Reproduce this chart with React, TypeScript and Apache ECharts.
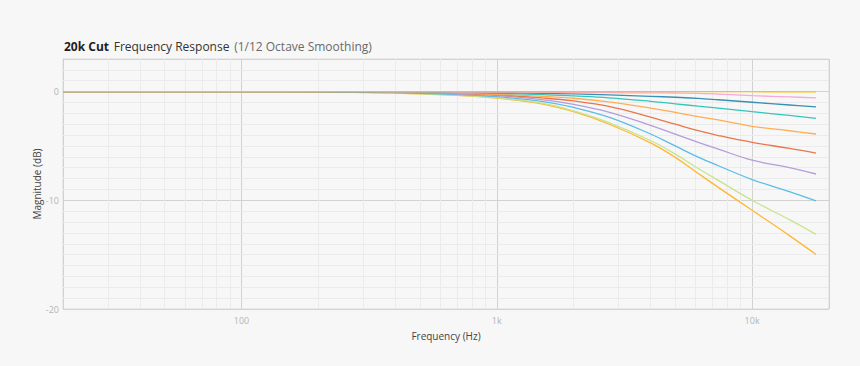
import React, { useEffect, useRef } from "react";
import * as echarts from "echarts";

const FREQS = [20, 100, 200, 300, 500, 700, 1000, 1500, 2000, 2745, 4000, 5000, 6150, 7370, 10000, 14000, 17800];

const GOLD = [0, 0, 0, 0, 0, 0, 0, 0, 0, 0, 0, 0, -0.01, -0.01, -0.01, -0.02, -0.02];
const PINK = [0, 0, 0, -0.01, -0.02, -0.04, -0.05, -0.06, -0.08, -0.1, -0.12, -0.13, -0.16, -0.23, -0.37, -0.49, -0.58];
const BLUE = [0, 0, -0.01, -0.02, -0.03, -0.05, -0.09, -0.15, -0.21, -0.3, -0.43, -0.52, -0.62, -0.75, -0.98, -1.23, -1.41];
const TEAL = [0, 0, -0.01, -0.02, -0.05, -0.08, -0.15, -0.27, -0.4, -0.57, -0.89, -1.12, -1.34, -1.52, -1.85, -2.19, -2.46];
const ORANGE = [0, 0, -0.01, -0.03, -0.07, -0.13, -0.24, -0.43, -0.61, -0.95, -1.52, -1.92, -2.3, -2.61, -3.19, -3.6, -3.9];
const RED = [0, 0, -0.02, -0.04, -0.1, -0.17, -0.3, -0.58, -0.86, -1.36, -2.35, -3.0, -3.6, -4.04, -4.67, -5.22, -5.66];
const PURPLE = [0, 0, -0.02, -0.05, -0.12, -0.21, -0.37, -0.74, -1.17, -1.88, -3.1, -3.92, -4.67, -5.29, -6.31, -7.0, -7.58];
const LIGHT_BLUE = [0, 0, -0.02, -0.06, -0.15, -0.27, -0.46, -0.9, -1.46, -2.35, -3.9, -5.0, -6.03, -6.82, -8.09, -9.2, -10.06];
const GREEN = [0, -0.01, -0.03, -0.07, -0.19, -0.33, -0.57, -1.06, -1.78, -2.85, -4.5, -5.75, -7.07, -8.17, -10.0, -11.78, -13.14];
const AMBER = [0, -0.01, -0.03, -0.08, -0.2, -0.35, -0.6, -1.12, -1.85, -2.98, -4.72, -6.05, -7.53, -8.81, -10.92, -13.25, -14.99];

const SERIES = [
  { name: "amber", values: AMBER, color: "#ffb732" },
  { name: "green", values: GREEN, color: "#c8e48e" },
  { name: "lightBlue", values: LIGHT_BLUE, color: "#5bbde6" },
  { name: "purple", values: PURPLE, color: "#b59ddb" },
  { name: "red", values: RED, color: "#e9774c" },
  { name: "orange", values: ORANGE, color: "#ffae55" },
  { name: "teal", values: TEAL, color: "#35c6bb" },
  { name: "blue", values: BLUE, color: "#3b8fb5" },
  { name: "pink", values: PINK, color: "#f6a8d8" },
  { name: "gold", values: GOLD, color: "#f7c11c" },
];

const MINOR_X = [30, 40, 50, 60, 70, 80, 90, 200, 300, 400, 500, 600, 700, 800, 900, 2000, 3000, 4000, 5000, 6000, 7000, 8000, 9000];
const MINOR_Y = [2, 1, -1, -2, -3, -4, -5, -6, -7, -8, -9, -11, -12, -13, -14, -15, -16, -17, -18, -19];
const X_LABELS: Record<number, string> = { 100: "100", 1000: "1k", 10000: "10k" };
const Y_LABELS = [0, -10, -20];

const FONT = "'Open Sans', sans-serif";

export default function App() {
  const ref = useRef<HTMLDivElement>(null);
  useEffect(() => {
    if (!ref.current) return;
    const chart = echarts.init(ref.current, null, { renderer: "svg" });
    const minorSeries = {
      name: "minor",
      type: "line",
      z: 1,
      data: [[20, 0]],
      showSymbol: false,
      lineStyle: { opacity: 0 },
      silent: true,
      markLine: {
        silent: true,
        z: 1,
        symbol: ["none", "none"],
        label: { show: false },
        animation: false,
        lineStyle: { color: "#ebebeb", type: "solid", width: 1 },
        emphasis: { disabled: true },
        data: [
          ...MINOR_X.map((v) => ({ xAxis: v })),
          ...MINOR_Y.map((v) => ({ yAxis: v })),
        ],
      },
    };
    chart.setOption({
      animation: false,
      backgroundColor: "#f7f7f7",
      textStyle: { fontFamily: FONT },
      title: {
        left: 59,
        top: 32,
        text: "{b|20k Cut} {n|Frequency Response} {g|(1/12 Octave Smoothing)}",
        textStyle: {
          fontWeight: "normal",
          rich: {
            b: { fontFamily: FONT, fontSize: 12, fontWeight: "bold", color: "#1e1e1e" },
            n: { fontFamily: FONT, fontSize: 12, fontWeight: "normal", color: "#333333" },
            g: { fontFamily: FONT, fontSize: 12, fontWeight: "normal", color: "#6a6a6a" },
          },
        },
      },
      grid: {
        left: 63,
        right: 31,
        top: 59,
        bottom: 57,
        show: true,
        backgroundColor: "#f7f7f7",
        borderColor: "#dddddd",
        borderWidth: 1,
      },
      xAxis: {
        type: "log",
        logBase: 10,
        min: 20,
        max: 20000,
        name: "Frequency (Hz)",
        nameLocation: "middle",
        nameGap: 22,
        nameTextStyle: { fontFamily: FONT, fontSize: 10, color: "#444" },
        axisLine: { show: true, lineStyle: { color: "#d2d2d2" } },
        axisTick: { show: false },
        axisLabel: {
          fontFamily: FONT,
          fontSize: 9,
          color: "#b5b5b5",
          margin: 7,
          formatter: (v: number) => X_LABELS[Math.round(v)] ?? "",
        },
        splitLine: { show: true, lineStyle: { color: "#d2d2d2", width: 1 } },
      },
      yAxis: {
        type: "value",
        min: -20,
        max: 3,
        interval: 10,
        name: "Magnitude (dB)",
        nameLocation: "middle",
        nameGap: 21,
        nameMoveOverlap: false,
        nameTextStyle: { fontFamily: FONT, fontSize: 10, color: "#444" },
        axisLine: { show: true, lineStyle: { color: "#d2d2d2" } },
        axisTick: { show: false },
        axisLabel: {
          fontFamily: FONT,
          fontSize: 9,
          color: "#b5b5b5",
          margin: 4,
          formatter: (v: number) => (Y_LABELS.includes(v) ? String(v) : ""),
        },
        splitLine: { show: true, lineStyle: { color: "#d2d2d2", width: 1 } },
      },
      series: [
        minorSeries,
        ...SERIES.map((s) => ({
          name: s.name,
          type: "line",
          z: 2,
          smooth: 0.4,
          showSymbol: false,
          silent: true,
          lineStyle: { color: s.color, width: 1.3 },
          data: FREQS.map((f, i) => [f, s.values[i]]),
        })),
      ],
    });
    return () => chart.dispose();
  }, []);
  return (
    <div style={{ position: "fixed", left: 0, top: 0, width: 860, height: 366, background: "#f7f7f7" }}>
      <div ref={ref} style={{ width: 860, height: 366 }} />
    </div>
  );
}
